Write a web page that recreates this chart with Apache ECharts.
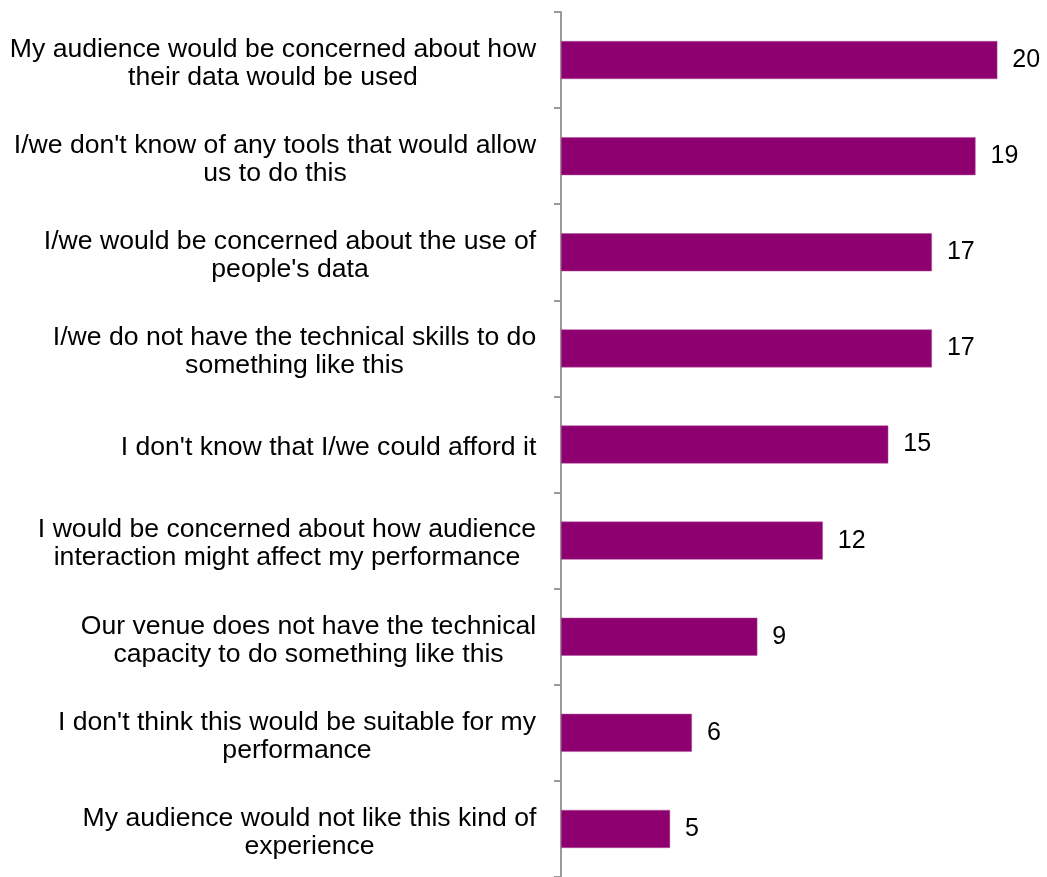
<!DOCTYPE html>
<html><head><meta charset="utf-8">
<script src="https://cdn.jsdelivr.net/npm/echarts@6/dist/echarts.min.js"></script>
<style>html,body{margin:0;padding:0;background:#fff}#c{width:1047px;height:877px}</style>
</head><body><div id="c"></div>
<script>
const categories = [
  "My audience would be concerned about how\ntheir data would be used",
  "I/we don't know of any tools that would allow\nus to do this",
  "I/we would be concerned about the use of\npeople's data",
  "I/we do not have the technical skills to do\nsomething like this",
  "I don't know that I/we could afford it",
  "I would be concerned about how audience\ninteraction might affect my performance",
  "Our venue does not have the technical\ncapacity to do something like this",
  "I don't think this would be suitable for my\nperformance",
  "My audience would not like this kind of\nexperience"
];
const values = [20, 19, 17, 17, 15, 12, 9, 6, 5];

const FONT_FAMILY = 'Liberation Sans, Arial, sans-serif';
const FONT_SIZE = 26.6;
const cv = document.createElement('canvas').getContext('2d');
cv.font = FONT_SIZE + 'px ' + FONT_FAMILY;
const rich = {};
categories.forEach((c, i) => {
  const w = Math.max(...c.split('\n').map(l => cv.measureText(l).width));
  rich['s' + i] = { width: Math.ceil(w) + 1, align: 'center', fontSize: FONT_SIZE, fontFamily: FONT_FAMILY, color: '#000', lineHeight: 28 };
});

const chart = echarts.init(document.getElementById('c'));
chart.setOption({
  animation: false,
  grid: { left: 561, top: 12, width: 480, height: 868, containLabel: false },
  xAxis: { type: 'value', min: 0, max: 22, show: false },
  yAxis: {
    type: 'category', inverse: true, data: categories,
    axisLine: { show: true, lineStyle: { color: '#9a9a9a', width: 2 } },
    axisTick: { show: true, length: 7, alignWithLabel: false, lineStyle: { color: '#9a9a9a', width: 2 } },
    axisLabel: {
      margin: 24, fontFamily: FONT_FAMILY, fontSize: FONT_SIZE, color: '#000', lineHeight: 28, align: 'right',
      padding: [7, 0, 0, 0],
      formatter: (v, i) => v.split('\n').map(l => '{s' + i + '|' + l + '}').join('\n'),
      rich: rich
    }
  },
  series: [{
    type: 'bar', data: values, barWidth: 38,
    itemStyle: { color: '#8E006F', borderColor: '#B0509A', borderWidth: 0.5 },
    label: { show: true, position: 'right', distance: 15, fontFamily: FONT_FAMILY, fontSize: 25, color: '#000' }
  }]
});
</script></body></html>
